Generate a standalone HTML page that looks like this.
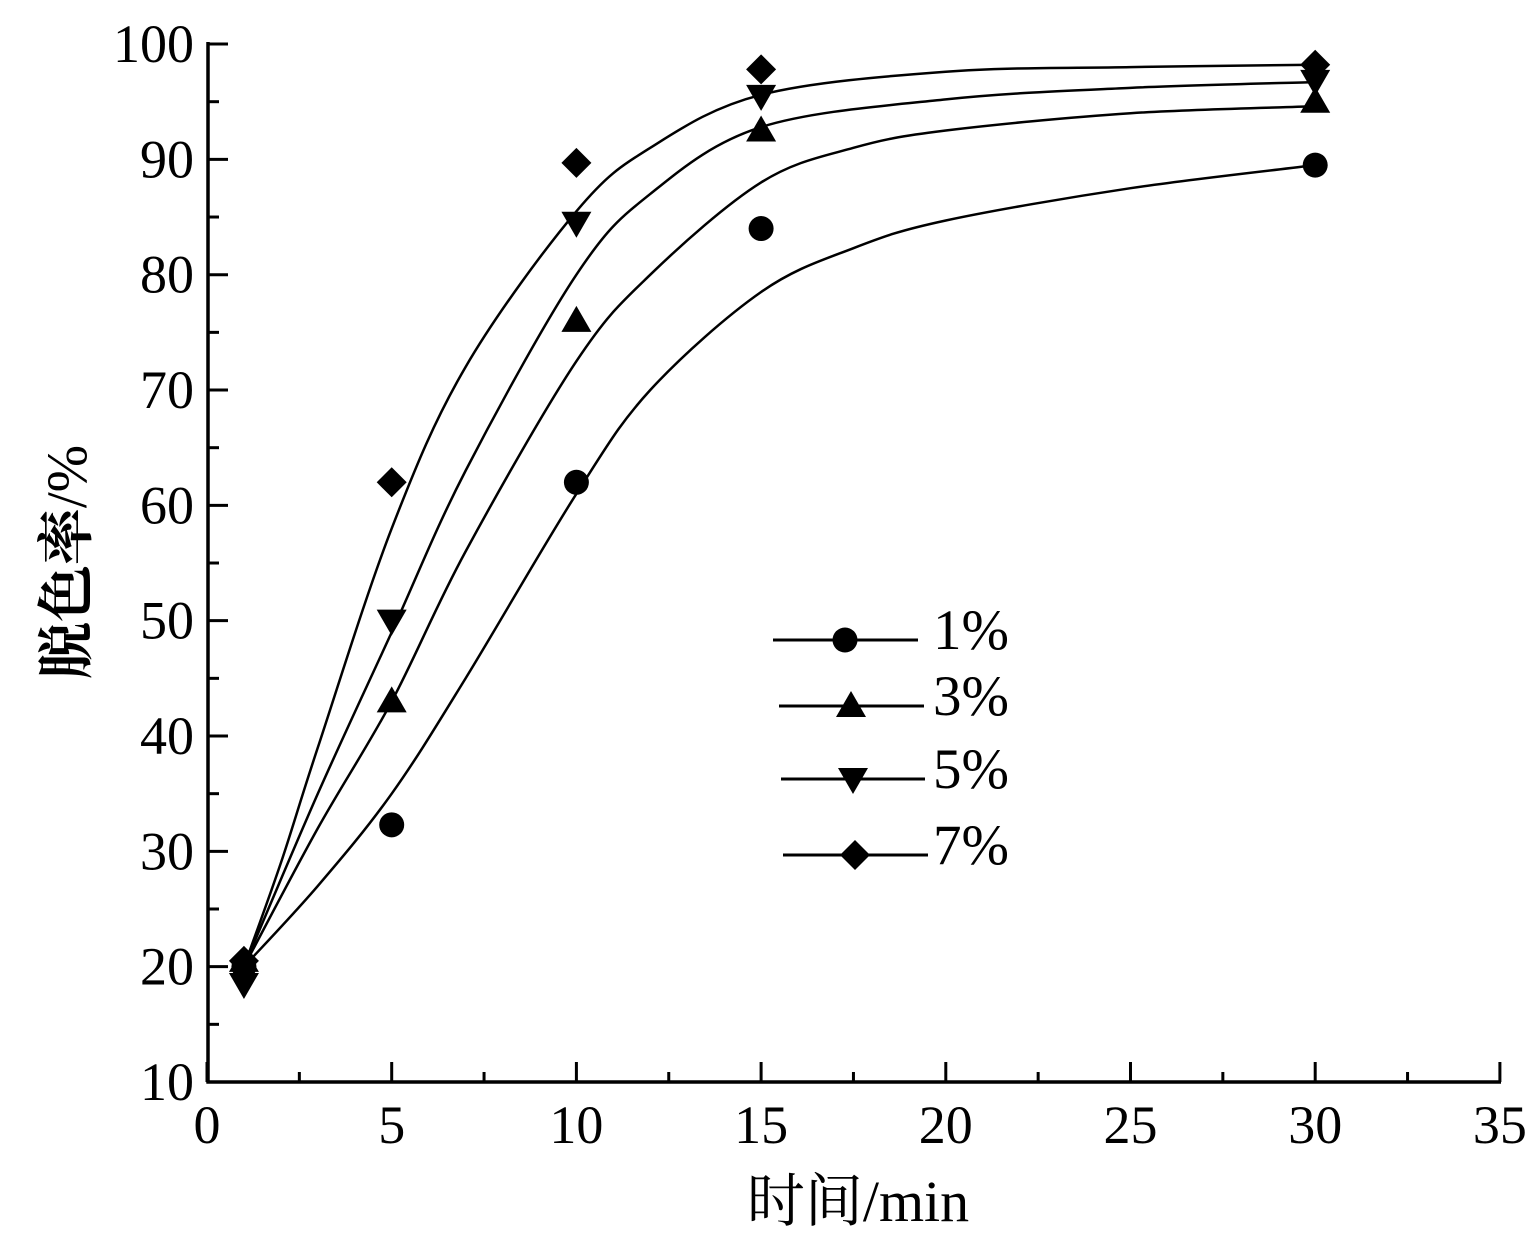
<!DOCTYPE html>
<html><head><meta charset="utf-8"><style>
html,body{margin:0;padding:0;background:#fff;}
svg{display:block;}
text{font-family:"Liberation Serif","Noto Serif CJK SC",serif;fill:#000;}
</style></head><body>
<svg id="s" width="1535" height="1248" xmlns="http://www.w3.org/2000/svg"></svg>
<script>
const s=document.getElementById('s');
const X=v=>207+v*36.94, Y=v=>1082-(v-10)*11.533;
let h='';
h+='<line x1="208" y1="42" x2="208" y2="1083.5" stroke="#000" stroke-width="3.5"/>';
h+='<line x1="206.5" y1="1082" x2="1501" y2="1082" stroke="#000" stroke-width="3.5"/>';
for(let v=10;v<=100;v+=5){const y=Y(v);const maj=v%10==0;h+=`<line x1="208" y1="${y}" x2="${maj?228:219}" y2="${y}" stroke="#000" stroke-width="3"/>`;
 if(maj)h+=`<text x="194" y="${y+18}" font-size="54" text-anchor="end">${v}</text>`;}
for(let v=0;v<=35;v+=2.5){const x=X(v);const maj=v%5==0;h+=`<line x1="${x}" y1="1082" x2="${x}" y2="${maj?1062:1072}" stroke="#000" stroke-width="3"/>`;
 if(maj)h+=`<text x="${x}" y="1143" font-size="54" text-anchor="middle">${v}</text>`;}
h+='<text x="858" y="1221" font-size="58" text-anchor="middle">时间/min</text>';
h+='<text transform="translate(86,562) rotate(-90)" font-size="57" text-anchor="middle" font-weight="bold">脱色率<tspan font-weight="normal">/%</tspan></text>';
function path(pts){const P=pts.map(p=>[X(p[0]),Y(p[1])]);let d=`M${P[0][0]},${P[0][1]}`;
 for(let i=0;i<P.length-1;i++){const p0=P[i-1]||P[i],p1=P[i],p2=P[i+1],p3=P[i+2]||P[i+1];
 d+=` C${p1[0]+(p2[0]-p0[0])/6},${p1[1]+(p2[1]-p0[1])/6} ${p2[0]-(p3[0]-p1[0])/6},${p2[1]-(p3[1]-p1[1])/6} ${p2[0]},${p2[1]}`;}
 return `<path d="${d}" fill="none" stroke="#000" stroke-width="2.5"/>`;}
const curves=[
[[1,20],[3,27],[5,35],[7,45],[10,61],[12,70],[15,78.5],[17.5,82.3],[20,84.7],[25,87.5],[30,89.5]],
[[1,20],[3,32],[5,43],[7,56],[10,72.5],[12,80],[15,88],[17.5,91],[20,92.5],[25,94],[30,94.6]],
[[1,20],[3,35],[5,49],[7,63],[10,80],[12,87],[15,92.8],[20,95.2],[25,96.2],[30,96.7]],
[[1,20],[2,29],[3,39],[5,58],[7,72],[10,85.5],[12,91],[15,95.6],[20,97.6],[25,98],[30,98.2]]];
curves.forEach(c=>h+=path(c));
function mk(t,x,y){
 if(t==0)return `<circle cx="${x}" cy="${y}" r="12.5"/>`;
 if(t==1)return `<polygon points="${x},${y-15} ${x+15},${y+11} ${x-15},${y+11}"/>`;
 if(t==2)return `<polygon points="${x},${y+15} ${x+15},${y-11} ${x-15},${y-11}"/>`;
 return `<polygon points="${x},${y-15} ${x+15},${y} ${x},${y+15} ${x-15},${y}"/>`;}
const data=[
[[1,20],[5,32.3],[10,62],[15,84],[30,89.5]],
[[1,20.5],[5,43],[10,76],[15,92.5],[30,95]],
[[1,18.5],[5,50],[10,84.5],[15,95.5],[30,96.8]],
[[1,20.5],[5,62],[10,89.7],[15,97.8],[30,98.2]]];
data.forEach((d,t)=>d.forEach(p=>h+=mk(t,X(p[0]),Y(p[1]))));
const leg=[[640,773,918,845,'1%'],[706,779,924,851,'3%'],[779,781,925,853,'5%'],[855,783,928,855,'7%']];
leg.forEach((l,t)=>{h+=`<line x1="${l[1]}" y1="${l[0]}" x2="${l[2]}" y2="${l[0]}" stroke="#000" stroke-width="3"/>`+mk(t,l[3],l[0]);
 h+=`<text x="933" y="${l[0]+9}" font-size="57">${l[4]}</text>`;});
s.innerHTML=h;
</script>
</body></html>
